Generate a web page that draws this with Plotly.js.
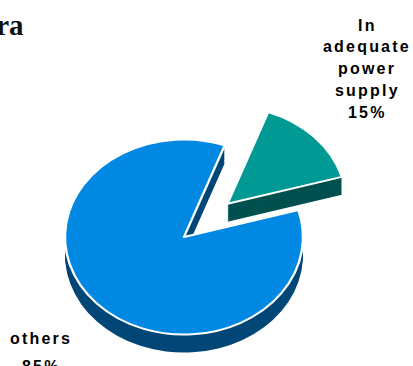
<!DOCTYPE html>
<html>
<head>
<meta charset="utf-8">
<script src="https://cdn.plot.ly/plotly-3.0.1.min.js"></script>
<style>
html,body{margin:0;padding:0;overflow:hidden;background:#fff;width:413px;height:366px}
#chart{width:413px;height:500px}
.annotation-text{letter-spacing:2.2px}
.annotation[data-index="0"] .annotation-text{letter-spacing:0}
</style>
</head>
<body>
<div id="chart"></div>
<script>
// ---- data ----
const categories = ['In adequate power supply', 'others'];
const values = [15, 85];
const topColors = ['#009994', '#0088E2'];
const sideColors = ['#005050', '#004676'];
const pulls = [0.5, 0];
const titleText = 'ra';

// ---- layout constants ----
const W = 413, H = 500, S = 0.82, CX = 184, CY = 237, R = 119, DEPTH = 18;
const labelX = [367, 41];
const labelFirstMid = [25, 338];
const labelStep = [21.8, 28.5];

const maxPull = Math.max(...pulls);
const half = R * (1 + maxPull);
function dom(dy) {
  return {
    x: [(CX - half) / W, (CX + half) / W],
    y: [1 - (CY + dy + half) / H, 1 - (CY + dy - half) / H]
  };
}

const total = values.reduce((a, b) => a + b, 0);
const traces = [];
for (let k = DEPTH; k >= 2; k -= 2) {
  traces.push({
    type: 'pie', values: values, labels: categories, sort: false,
    direction: 'clockwise', rotation: 20, pull: pulls,
    marker: {colors: sideColors, line: {width: 0}},
    textinfo: 'none', hoverinfo: 'none', showlegend: false,
    domain: dom(k / S)
  });
}
traces.push({
  type: 'pie', values: values, labels: categories, sort: false,
  direction: 'clockwise', rotation: 20, pull: pulls,
  marker: {colors: topColors, line: {color: '#ffffff', width: 2.4}},
  textinfo: 'none', hoverinfo: 'none', showlegend: false,
  domain: dom(0)
});

const annotations = [{
  text: titleText, xref: 'paper', yref: 'paper', x: 28 / W, y: 1 - 25 / H,
  xanchor: 'right', yanchor: 'middle', showarrow: false,
  font: {family: 'Liberation Serif, Times New Roman, serif', size: 29, color: '#111111', weight: 'bold'}
}];
categories.forEach((c, i) => {
  const pct = Math.round(values[i] / total * 100) + '%';
  const lines = c.split(' ').concat([pct]);
  lines.forEach((ln, j) => {
    annotations.push({
      text: '<b>' + ln + '</b>', xref: 'paper', yref: 'paper',
      x: labelX[i] / W, y: 1 - (labelFirstMid[i] + j * labelStep[i]) / H,
      xanchor: 'center', yanchor: 'middle', showarrow: false,
      font: {family: 'Liberation Sans, Arial, sans-serif', size: 16, color: '#000000'}
    });
  });
});

const layout = {
  width: W, height: H, margin: {l: 0, r: 0, t: 0, b: 0},
  paper_bgcolor: '#ffffff', plot_bgcolor: '#ffffff',
  showlegend: false, annotations: annotations
};

Plotly.newPlot('chart', traces, layout, {staticPlot: true, displayModeBar: false}).then(gd => {
  const pl = gd.querySelector('.pielayer');
  if (pl) pl.setAttribute('transform', 'translate(0 ' + (CY * (1 - S)) + ') scale(1 ' + S + ')');
});
</script>
</body>
</html>
